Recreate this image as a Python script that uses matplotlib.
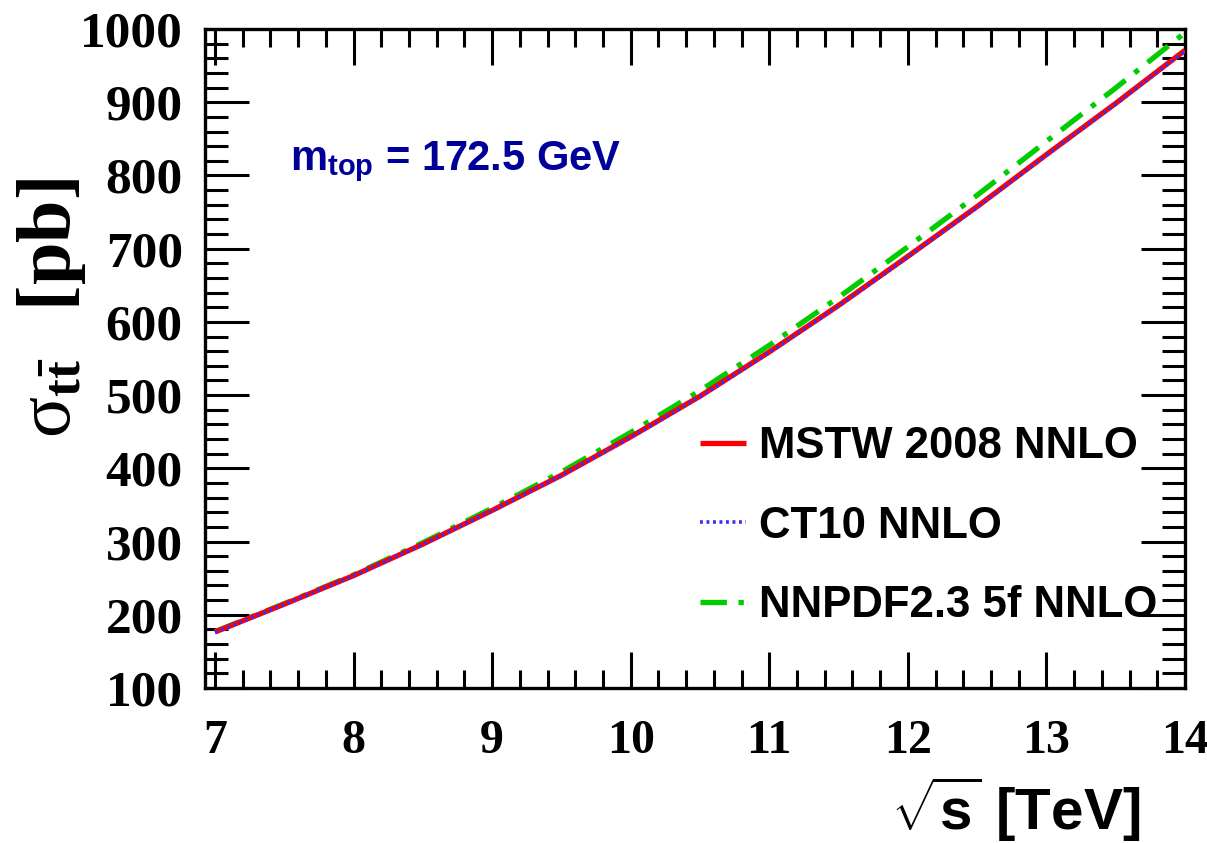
import matplotlib
matplotlib.use("Agg")
import matplotlib.pyplot as plt
from matplotlib.ticker import MultipleLocator

plt.rcParams['mathtext.fontset'] = 'custom'
plt.rcParams['mathtext.rm'] = 'Liberation Serif'
plt.rcParams['mathtext.bf'] = 'Liberation Serif:bold'
plt.rcParams['mathtext.sf'] = 'Liberation Sans:bold'
plt.rcParams['mathtext.it'] = 'Liberation Serif:italic'

# Data
sqrt_s = [7.0, 7.5, 8.0, 8.5, 9.0, 9.5, 10.0, 10.5, 11.0, 11.5, 12.0, 12.5, 13.0, 13.5, 14.0]
mstw = [176.5, 214.5, 253.5, 296.5, 342.5, 390.5, 443, 498.5, 559, 622.5, 689.5, 757.5, 828.5, 898.5, 971]
ct10 = [176.0, 214, 253, 296, 342, 390, 442, 497.5, 558, 621.5, 688.5, 756.5, 827.5, 897.5, 970]
nnpdf = [177.0, 215.2, 254.5, 298.5, 345.5, 395, 449, 506, 568, 633.5, 702.5, 773, 846.5, 919.5, 995]
labels = ["MSTW 2008 NNLO", "CT10 NNLO", "NNPDF2.3 5f NNLO"]

W, H = 1207, 843
fig = plt.figure(figsize=(W / 100, H / 100), dpi=100)
ax = fig.add_axes([205 / W, 1 - 688 / H, (1185 - 205) / W, (688 - 29) / H])

l3, = ax.plot(sqrt_s, nnpdf, color='#00cc00', lw=3.8, dashes=(5, 2.2, 1, 2.2), zorder=2)
l1, = ax.plot(sqrt_s, mstw, color='#ff0000', lw=3.8, solid_capstyle='butt', zorder=3)
l2, = ax.plot(sqrt_s, ct10, color='#3a2cff', lw=2.6, dashes=(0.8, 1.0), zorder=4)

ax.set_xlim(6.928, 14.0)
ax.set_ylim(100, 1000)
ax.xaxis.set_major_locator(MultipleLocator(1))
ax.xaxis.set_minor_locator(MultipleLocator(0.2))
ax.yaxis.set_major_locator(MultipleLocator(100))
ax.yaxis.set_minor_locator(MultipleLocator(20))

for s in ax.spines.values():
    s.set_linewidth(2.4)

ax.tick_params(axis='x', which='major', direction='in', length=26, width=2.2,
               top=True, pad=22)
ax.tick_params(axis='x', which='minor', direction='in', length=13, width=2.2, top=True)
ax.tick_params(axis='y', which='major', direction='in', length=32, width=2.2,
               right=True, pad=16)
ax.tick_params(axis='y', which='minor', direction='in', length=16.5, width=2.2, right=True)

for lab in ax.get_xticklabels():
    lab.set_fontfamily('Liberation Serif')
    lab.set_fontweight('bold')
    lab.set_fontsize(34.5)
for lab in ax.get_yticklabels():
    lab.set_fontfamily('Liberation Serif')
    lab.set_fontweight('bold')
    lab.set_fontsize(37)

ax.text(290 / 1207, 1 - 162 / 843, r"m$_{\mathsf{top}}$ = 172.5 GeV", transform=fig.transFigure,
        fontsize=30, fontweight='bold', family='Liberation Sans', color='#000099',
        ha='left', va='center')

fig.text(0.042, 1 - 178 / H, r"$\mathrm{σ}_{\mathbf{t\bar{t}}}$  $\mathbf{[pb]}$", rotation=90,
         fontsize=55, ha='center', va='top')

fig.text(1140 / W, 1 - 830 / H, r"$\mathsf{\sqrt{s}}$ [TeV]", fontsize=42,
         fontweight='bold', family='Liberation Sans', ha='right', va='baseline')

leg = ax.legend([l1, l2, l3], labels, loc='upper left',
                bbox_to_anchor=(700 / W, 1 - 426 / H), bbox_transform=fig.transFigure,
                frameon=False, prop={'family': 'Liberation Sans', 'weight': 'bold', 'size': 31.5},
                handlelength=1.05, handletextpad=0.3, labelspacing=0.88, borderaxespad=0,
                borderpad=0)

fig.savefig("out.png", dpi=100)
